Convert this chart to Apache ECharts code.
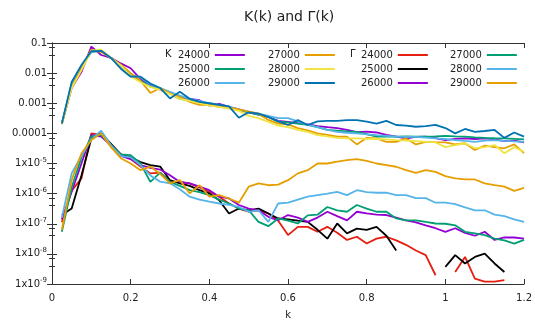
<!DOCTYPE html>
<html>
<head>
<meta charset="utf-8">
<script src="https://cdn.jsdelivr.net/npm/echarts@6/dist/echarts.min.js"></script>
<style>html,body{margin:0;padding:0;background:#fff}#c{width:535px;height:325px}</style>
</head>
<body>
<div id="c"></div>
<script>
const kValues = [0.025,0.05,0.075,0.1,0.125,0.15,0.175,0.2,0.225,0.25,0.275,0.3,0.325,0.35,0.375,0.4,0.425,0.45,0.475,0.5,0.525,0.55,0.575,0.6,0.625,0.65,0.675,0.7,0.725,0.75,0.775,0.8,0.825,0.85,0.875,0.9,0.925,0.95,0.975,1.0,1.025,1.05,1.075,1.1,1.125,1.15,1.175,1.2];

const K_24000 = [2.1e-4,3.2e-3,1.1e-2,7.6e-2,4.0e-2,3.2e-2,2.1e-2,1.45e-2,6.3e-3,4.0e-3,2.8e-3,2.2e-3,1.6e-3,1.4e-3,1.26e-3,8.3e-4,9.5e-4,7.6e-4,6.3e-4,5.0e-4,4.2e-4,3.5e-4,2.6e-4,2.4e-4,2.2e-4,2.0e-4,1.74e-4,1.6e-4,1.5e-4,1.3e-4,1.1e-4,1.15e-4,1.07e-4,8.9e-5,7.8e-5,6.8e-5,7.6e-5,7.8e-5,6.9e-5,6.0e-5,6.6e-5,6.8e-5,6.5e-5,6.8e-5,6.3e-5,5.5e-5,5.75e-5,5.0e-5];
const K_25000 = [2.1e-4,4.0e-3,1.6e-2,5.0e-2,5.6e-2,3.2e-2,1.8e-2,8.9e-3,5.6e-3,3.5e-3,3.2e-3,2.1e-3,1.4e-3,1.26e-3,1.12e-3,8.9e-4,7.9e-4,7.1e-4,6.0e-4,5.0e-4,4.2e-4,3.5e-4,2.45e-4,2.3e-4,2.1e-4,1.9e-4,1.6e-4,1.3e-4,1.23e-4,1.17e-4,1.12e-4,9.5e-5,7.8e-5,7.9e-5,7.8e-5,7.9e-5,7.8e-5,7.8e-5,7.9e-5,8.3e-5,7.9e-5,7.8e-5,7.4e-5,7.1e-5,6.9e-5,6.8e-5,6.6e-5,6.3e-5];
const K_26000 = [2.1e-4,4.5e-3,1.66e-2,5.2e-2,5.4e-2,3.2e-2,1.6e-2,8.9e-3,7.1e-3,4.2e-3,3.2e-3,2.4e-3,1.8e-3,1.4e-3,1.2e-3,1.0e-3,8.9e-4,7.6e-4,6.3e-4,5.25e-4,4.5e-4,3.8e-4,3.2e-4,3.2e-4,2.5e-4,1.9e-4,1.6e-4,1.3e-4,1.12e-4,1.05e-4,1.0e-4,9.3e-5,8.7e-5,8.3e-5,7.8e-5,7.6e-5,7.6e-5,7.2e-5,6.8e-5,6.5e-5,6.0e-5,5.6e-5,5.25e-5,5.75e-5,6.0e-5,5.6e-5,5.4e-5,5.25e-5];
const K_27000 = [2.0e-4,3.5e-3,1.4e-2,6.0e-2,5.0e-2,3.2e-2,1.9e-2,1.0e-2,5.6e-3,2.2e-3,3.2e-3,2.1e-3,1.6e-3,1.12e-3,8.9e-4,8.9e-4,7.6e-4,7.1e-4,6.3e-4,5.25e-4,4.5e-4,2.8e-4,2.1e-4,2.0e-4,1.5e-4,1.26e-4,1.0e-4,8.9e-5,7.8e-5,7.8e-5,4.3e-5,7.1e-5,6.8e-5,5.25e-5,5.25e-5,6.8e-5,4.3e-5,5.25e-5,5.1e-5,5.0e-5,4.3e-5,4.7e-5,2.8e-5,3.9e-5,3.5e-5,3.2e-5,4.3e-5,2.2e-5];
const K_28000 = [2.1e-4,3.2e-3,1.26e-2,5.6e-2,6.0e-2,3.2e-2,1.8e-2,7.9e-3,5.0e-3,3.5e-3,2.8e-3,2.0e-3,1.4e-3,1.2e-3,1.0e-3,8.3e-4,7.6e-4,6.6e-4,5.6e-4,3.8e-4,3.2e-4,2.4e-4,1.8e-4,1.6e-4,1.3e-4,1.12e-4,8.7e-5,7.9e-5,7.1e-5,6.9e-5,6.8e-5,6.6e-5,6.5e-5,6.3e-5,6.0e-5,5.75e-5,5.5e-5,5.25e-5,5.0e-5,3.5e-5,4.1e-5,4.7e-5,3.2e-5,3.5e-5,4.1e-5,2.2e-5,3.5e-5,2.45e-5];
const K_29000 = [2.1e-4,5.1e-3,1.86e-2,5.4e-2,5.5e-2,3.2e-2,1.4e-2,7.6e-3,7.6e-3,4.5e-3,3.2e-3,1.45e-3,2.4e-3,1.4e-3,1.12e-3,1.0e-3,8.9e-4,7.9e-4,3.3e-4,5.0e-4,4.5e-4,3.5e-4,2.5e-4,1.9e-4,2.75e-4,1.9e-4,2.5e-4,2.6e-4,2.6e-4,2.75e-4,2.75e-4,2.45e-4,2.1e-4,2.6e-4,1.9e-4,1.8e-4,1.66e-4,1.74e-4,1.9e-4,1.5e-4,1.0e-4,1.4e-4,1.12e-4,1.2e-4,1.3e-4,7.1e-5,1.07e-4,7.8e-5];

const G_24000 = [1.12e-7,1.26e-6,3.2e-6,1.0e-4,8.9e-5,4.0e-5,2.0e-5,1.4e-5,7.9e-6,4.7e-6,5.0e-6,2.5e-6,2.4e-6,2.2e-6,1.6e-6,1.15e-6,7.9e-7,4.7e-7,3.2e-7,2.5e-7,2.8e-7,2.2e-7,1.26e-7,4.2e-8,7.9e-8,7.9e-8,5.4e-8,7.9e-8,5.0e-8,2.9e-8,3.7e-8,2.2e-8,3.2e-8,3.7e-8,2.8e-8,2.0e-8,1.3e-8,9.1e-9,1.95e-9,null,2.5e-9,7.9e-9,1.5e-9,1.2e-9,1.2e-9,1.35e-9,null,null];
const G_25000 = [1.95e-7,3.2e-7,4.1e-6,6.8e-5,1.0e-4,4.5e-5,2.0e-5,1.6e-5,1.12e-5,8.9e-6,7.9e-6,2.8e-6,2.2e-6,1.8e-6,1.3e-6,1.02e-6,6.0e-7,2.2e-7,3.2e-7,2.8e-7,3.2e-7,2.2e-7,1.5e-7,1.4e-7,1.26e-7,1.15e-7,6.3e-8,3.2e-8,1.02e-7,4.8e-8,6.9e-8,6.3e-8,7.9e-8,4.0e-8,1.3e-8,null,null,null,null,3.7e-9,9.1e-9,4.8e-9,7.9e-9,1.02e-8,4.8e-9,2.5e-9,null,null];
const G_26000 = [1.4e-7,1.15e-6,1.02e-5,8.9e-5,7.8e-5,4.0e-5,1.8e-5,1.4e-5,8.9e-6,7.1e-6,6.3e-6,4.1e-6,2.45e-6,2.2e-6,1.7e-6,1.3e-6,7.9e-7,6.9e-7,4.2e-7,3.2e-7,2.8e-7,1.7e-7,1.3e-7,1.95e-7,1.6e-7,1.15e-7,1.6e-7,2.5e-7,1.8e-7,1.3e-7,2.5e-7,2.2e-7,2.0e-7,1.95e-7,1.6e-7,1.3e-7,1.12e-7,8.9e-8,7.1e-8,5.4e-8,7.1e-8,5.0e-8,4.0e-8,5.4e-8,2.9e-8,3.5e-8,3.5e-8,3.2e-8];
const G_27000 = [5.4e-8,1.6e-6,1.6e-5,7.9e-5,8.9e-5,4.0e-5,2.0e-5,1.9e-5,1.0e-5,2.45e-6,5.0e-6,2.45e-6,1.8e-6,1.3e-6,1.12e-6,8.9e-7,6.3e-7,4.7e-7,3.2e-7,2.8e-7,1.15e-7,8.3e-8,1.5e-7,1.26e-7,1.02e-7,1.9e-7,2.0e-7,3.6e-7,2.8e-7,2.5e-7,4.2e-7,3.2e-7,2.5e-7,2.5e-7,1.5e-7,1.3e-7,1.3e-7,1.15e-7,1.02e-7,1.0e-7,8.9e-8,5.4e-8,4.8e-8,4.2e-8,3.2e-8,2.8e-8,2.2e-8,2.9e-8];
const G_28000 = [1.6e-7,4.7e-6,1.8e-5,6.3e-5,1.23e-4,4.0e-5,1.8e-5,1.6e-5,8.9e-6,4.0e-6,2.5e-6,2.2e-6,1.4e-6,7.9e-7,6.3e-7,5.4e-7,4.7e-7,4.2e-7,3.6e-7,2.5e-7,2.8e-7,1.15e-7,4.7e-7,5.0e-7,6.3e-7,7.9e-7,8.9e-7,1.0e-6,1.15e-6,8.9e-7,1.3e-6,1.12e-6,1.07e-6,1.07e-6,8.9e-7,8.9e-7,7.1e-7,7.1e-7,5.0e-7,5.0e-7,4.5e-7,3.5e-7,2.8e-7,2.8e-7,2.0e-7,1.8e-7,1.4e-7,1.15e-7];
const G_29000 = [6.2e-8,2.8e-6,2.2e-5,6.0e-5,1.0e-4,3.5e-5,1.5e-5,1.0e-5,6.0e-6,7.9e-6,4.5e-6,2.2e-6,2.8e-6,1.02e-6,1.9e-6,7.9e-7,8.9e-7,6.9e-7,5.0e-7,1.7e-6,2.2e-6,1.9e-6,2.0e-6,2.8e-6,4.7e-6,6.0e-6,1.0e-5,1.0e-5,1.15e-5,1.3e-5,1.4e-5,1.23e-5,1.0e-5,8.9e-6,7.8e-6,6.0e-6,4.9e-6,6.0e-6,5.25e-6,3.8e-6,3.2e-6,2.95e-6,2.95e-6,2.2e-6,1.9e-6,1.7e-6,1.23e-6,1.55e-6];

const seriesNames = ['K 24000','K 25000','K 26000','K 27000','K 28000','K 29000','Γ 24000','Γ 25000','Γ 26000','Γ 27000','Γ 28000','Γ 29000'];
const seriesValues = [K_24000,K_25000,K_26000,K_27000,K_28000,K_29000,G_24000,G_25000,G_26000,G_27000,G_28000,G_29000];
const seriesColors = ['#9400d3','#009e73','#56b4e9','#e69f00','#f0e442','#0072b2','#e51e10','#000000','#9400d3','#009e73','#56b4e9','#e69f00'];

const xTicks = ['0','0.2','0.4','0.6','0.8','1','1.2'];
const yTickValues = [1e-9,1e-8,1e-7,1e-6,1e-5,1e-4,1e-3,1e-2,1e-1];
const yTickLabels = ['1x10{s|-9}','1x10{s|-8}','1x10{s|-7}','1x10{s|-6}','1x10{s|-5}','0.0001','0.001','0.01','0.1'];

const FONT = 'DejaVu Sans';
const axisColor = '#333';

function yLabel(v) {
  for (let i = 0; i < yTickValues.length; i++) {
    if (Math.abs(Math.log10(v) - Math.log10(yTickValues[i])) < 0.01) return yTickLabels[i];
  }
  return '';
}
function xLabel(v) {
  const i = Math.round(v / 0.2);
  return (Math.abs(v - i * 0.2) < 1e-6 && xTicks[i] !== undefined) ? xTicks[i] : '';
}

const chart = echarts.init(document.getElementById('c'), null, {renderer: 'canvas'});

const series = seriesNames.map((n, idx) => ({
  name: n,
  type: 'line',
  xAxisIndex: 0,
  yAxisIndex: 0,
  symbol: 'none',
  showSymbol: false,
  connectNulls: false,
  lineStyle: {width: 1.8, color: seriesColors[idx]},
  itemStyle: {color: seriesColors[idx]},
  data: kValues.map((k, i) => [k, seriesValues[idx][i]])
}));

function legendAt(names, left) {
  return {
    data: names,
    orient: 'vertical',
    left: left,
    top: 49,
    padding: 0,
    align: 'right',
    icon: 'rect',
    itemWidth: 30,
    itemHeight: 2,
    itemGap: 2,
    selectedMode: false,
    formatter: (name) => name.split(' ')[1],
    textStyle: {fontFamily: FONT, fontSize: 10, color: '#222', lineHeight: 12}
  };
}

chart.setOption({
  animation: false,
  backgroundColor: '#fff',
  title: {
    text: 'K(k) and Γ(k)',
    left: 239,
    top: 5,
    textStyle: {fontFamily: FONT, fontSize: 14, fontWeight: 'normal', color: '#222'}
  },
  legend: [
    legendAt(seriesNames.slice(0, 3), 178),
    legendAt(seriesNames.slice(3, 6), 268),
    legendAt(seriesNames.slice(6, 9), 361),
    legendAt(seriesNames.slice(9, 12), 450)
  ],
  graphic: [
    {type: 'text', left: 165, top: 49, style: {text: 'K', font: '10px "DejaVu Sans"', fill: '#222'}},
    {type: 'text', left: 350, top: 49, style: {text: 'Γ', font: '10px "DejaVu Sans"', fill: '#222'}}
  ],
  grid: {left: 52, right: 7, top: 43, bottom: 41, containLabel: false, show: false},
  xAxis: [
    {
      type: 'value', min: 0, max: 1.2, interval: 0.2, position: 'bottom',
      name: 'k', nameLocation: 'middle', nameGap: 26,
      nameTextStyle: {fontFamily: FONT, fontSize: 10, color: '#222'},
      axisLine: {show: true, lineStyle: {color: axisColor, width: 1}},
      axisTick: {show: true, inside: true, length: 5, lineStyle: {color: axisColor}},
      axisLabel: {fontFamily: FONT, fontSize: 10, color: '#222', margin: 9, formatter: xLabel},
      splitLine: {show: false}
    },
    {
      type: 'value', min: 0, max: 1.2, interval: 0.2, position: 'top',
      axisLine: {show: true, lineStyle: {color: axisColor, width: 1}},
      axisTick: {show: true, inside: true, length: 5, lineStyle: {color: axisColor}},
      axisLabel: {show: false},
      splitLine: {show: false}
    }
  ],
  yAxis: [
    {
      type: 'log', logBase: 10, min: 1e-9, max: 0.1, position: 'left',
      axisLine: {show: true, lineStyle: {color: axisColor, width: 1}},
      axisTick: {show: true, inside: true, length: 5, lineStyle: {color: axisColor}},
      minorTick: {show: true, splitNumber: 3, length: 3, lineStyle: {color: axisColor}},
      axisLabel: {
        fontFamily: FONT, fontSize: 10, color: '#222', margin: 5,
        formatter: yLabel,
        rich: {s: {fontFamily: FONT, fontSize: 7, color: '#222', padding: [0, 0, 7, 0]}}
      },
      splitLine: {show: false},
      minorSplitLine: {show: false}
    },
    {
      type: 'log', logBase: 10, min: 1e-9, max: 0.1, position: 'right',
      axisLine: {show: true, lineStyle: {color: axisColor, width: 1}},
      axisTick: {show: true, inside: true, length: 5, lineStyle: {color: axisColor}},
      minorTick: {show: true, splitNumber: 3, length: 3, lineStyle: {color: axisColor}},
      axisLabel: {show: false},
      splitLine: {show: false},
      minorSplitLine: {show: false}
    }
  ],
  series: series
});
</script>
</body>
</html>
